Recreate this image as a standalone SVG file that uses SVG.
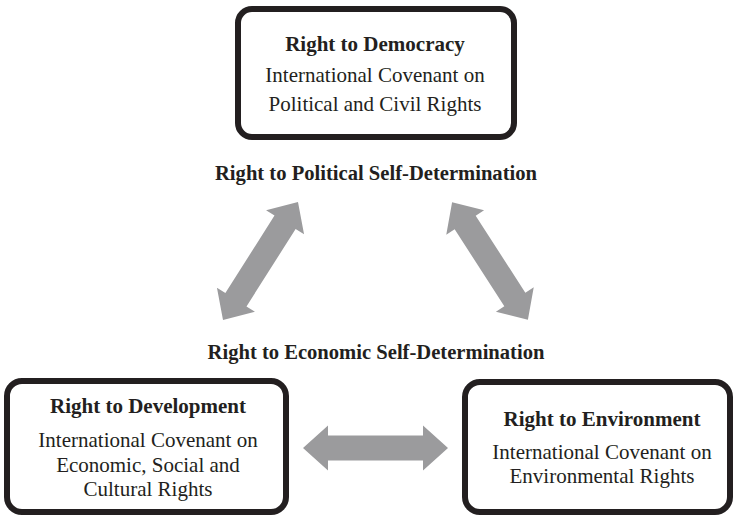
<svg xmlns="http://www.w3.org/2000/svg" width="735" height="517" viewBox="0 0 735 517">
  <style>
    .box { fill: #ffffff; stroke: #231f20; stroke-width: 6; }
    .t { font-family: "Liberation Serif", "Times New Roman", serif; fill: #231f20; text-anchor: middle; font-size: 21px; }
    .b { font-weight: bold; }
    .lbl { font-size: 20.6px; }
    .arrow { fill: #9b9b9d; }
  </style>
  <defs>
    <!-- double-headed block arrow, centred on the origin along the x axis -->
    <path id="dbl" d="M-72.5,0 L-47.5,-22.5 L-47.5,-12.5 L47.5,-12.5 L47.5,-22.5 L72.5,0 L47.5,22.5 L47.5,12.5 L-47.5,12.5 L-47.5,22.5 Z"/>
  </defs>

  <g id="connectors">
    <use href="#dbl" class="arrow" transform="translate(260.5,261) rotate(-57.6) scale(0.965,1)"/>
    <use href="#dbl" class="arrow" transform="translate(490,261) rotate(57.2) scale(0.965,1)"/>
    <use href="#dbl" class="arrow" transform="translate(375.5,448)"/>
  </g>

  <g id="democracy">
    <rect class="box" x="238" y="9" width="276" height="128" rx="14"/>
    <text class="t b" x="375" y="51">Right to Democracy</text>
    <text class="t" x="375" y="82">International Covenant on</text>
    <text class="t" x="375" y="111">Political and Civil Rights</text>
  </g>

  <g id="political-label">
    <text class="t b lbl" x="376" y="180">Right to Political Self-Determination</text>
  </g>

  <g id="economic-label">
    <text class="t b lbl" x="376" y="359">Right to Economic Self-Determination</text>
  </g>

  <g id="development">
    <rect class="box" x="7" y="381" width="279" height="131" rx="15"/>
    <text class="t b" x="148" y="413">Right to Development</text>
    <text class="t" x="148" y="447">International Covenant on</text>
    <text class="t" x="148" y="472">Economic, Social and</text>
    <text class="t" x="148" y="496">Cultural Rights</text>
  </g>

  <g id="environment">
    <rect class="box" x="465" y="382" width="265" height="130" rx="15"/>
    <text class="t b" x="602" y="426">Right to Environment</text>
    <text class="t" x="602" y="459">International Covenant on</text>
    <text class="t" x="602" y="483">Environmental Rights</text>
  </g>
</svg>
